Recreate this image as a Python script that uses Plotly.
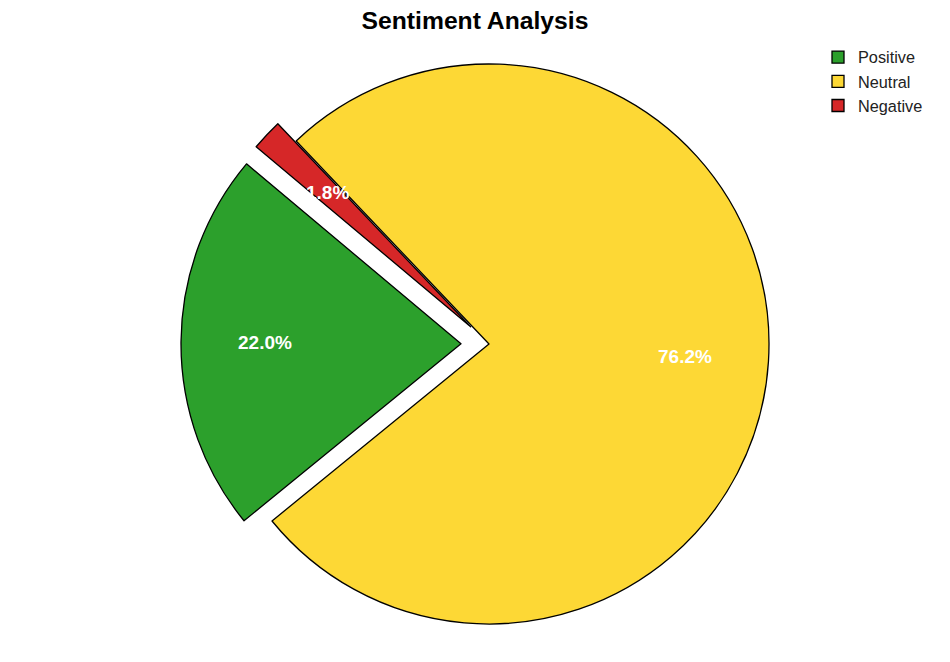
import math
import plotly.graph_objects as go

labels = ["Positive", "Neutral", "Negative"]
values = [22.0, 76.2, 1.8]
colors = ["#2ca02c", "#fdd835", "#d62728"]
pulls = [0.1, 0.0, 0.09]
start_angle = 140.0  # degrees, counterclockwise from 3 o'clock (first slice start)

# figure size (page has an 8px body margin around the plot)
W, H = 934, 646
cx, cy = 481, 336
R = 280
dom_half = R * (1 + max(pulls))

total = sum(values)
first_span = values[0] / total * 360
# plotly: for counterclockwise, the first slice spans [rotation, rotation + span] (cw from top)
rotation = (90 - start_angle) - first_span

fig = go.Figure(go.Pie(
    labels=labels, values=values, sort=False, direction="counterclockwise",
    rotation=rotation, pull=pulls,
    marker=dict(colors=colors, line=dict(color="black", width=1.3)),
    textinfo="none", hoverinfo="label+percent",
    domain=dict(x=[(cx - dom_half) / W, (cx + dom_half) / W],
                y=[(H - cy - dom_half) / H, (H - cy + dom_half) / H]),
))

# percentage labels at pctdistance 0.7 of each (pulled) slice
start = start_angle
anns = []
for v, p in zip(values, pulls):
    span = v / total * 360
    mid = math.radians(start + span / 2)
    r = R * (0.7 + p)
    x = cx + r * math.cos(mid)
    y = cy - r * math.sin(mid)
    anns.append(dict(x=x / W, y=1 - y / H, xref="paper", yref="paper",
                     xanchor="center", yanchor="middle",
                     text=f"<b>{v / total * 100:.1f}%</b>", showarrow=False,
                     font=dict(family="Liberation Sans, Arial", size=19, color="white")))
    start += span

fig.update_layout(
    width=W, height=H,
    margin=dict(l=0, r=0, t=0, b=0),
    paper_bgcolor="white", plot_bgcolor="white",
    title=dict(text="<b>Sentiment Analysis</b>", x=0.5, xanchor="center",
               y=1 - 12 / H, yanchor="middle",
               font=dict(family="Liberation Sans, Arial", size=24.7, color="black")),
    legend=dict(x=810 / W, xanchor="left", y=1 - 32 / H, yanchor="top",
                font=dict(family="Liberation Sans, Arial", size=16.3, color="#222222"),
                tracegroupgap=0),
    annotations=anns,
)

fig.write_html("out.html")
